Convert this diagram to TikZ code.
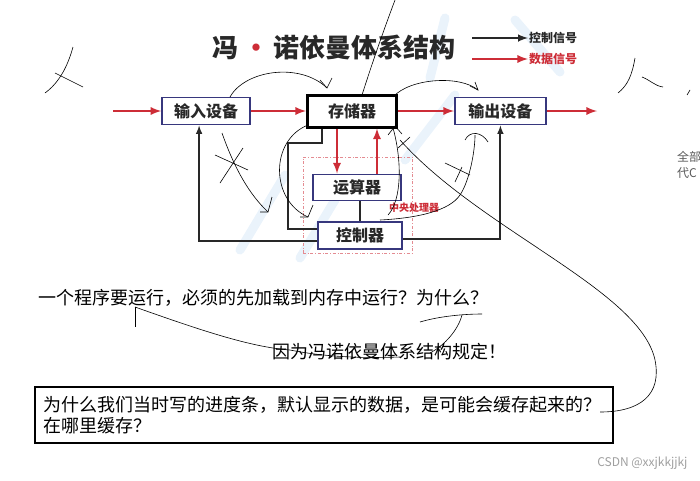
\documentclass[tikz,border=0pt]{standalone}
\usepackage{fontspec}
\setmainfont{Noto Sans CJK SC}
\usetikzlibrary{positioning}
\definecolor{datared}{RGB}{205,45,55}
\definecolor{unitblue}{RGB}{55,55,125}
\definecolor{ink}{RGB}{40,40,40}
\definecolor{wmblue}{RGB}{234,243,251}

\begin{document}
\begin{tikzpicture}[x=1pt, y=-1pt, >=latex,
    unit/.style={rectangle, draw=unitblue, line width=1.8pt, fill=white, minimum width=88pt, minimum height=27pt, inner sep=0pt, font=\fontsize{16}{18}\selectfont\bfseries, text=ink},
    data/.style={draw=datared, line width=2.6pt},
    ctl/.style={draw=ink, line width=1.9pt},
    pen/.style={draw=black, line width=0.6pt},
    water/.style={draw=wmblue, line width=9pt, line cap=round},
    note/.style={font=\fontsize{18}{21}\selectfont, anchor=west, inner sep=0pt}]

    \useasboundingbox (0,0) rectangle (700,480);

    \draw[water] (240,250) -- (285,175);
    \draw[water] (300,258) -- (335,200);
    \draw[water] (405,160) -- (455,95);
    \draw[water] (430,78) -- (445,18);
    \draw[water] (515,20) -- (560,72);

    \node (title) at (334,48) [font=\fontsize{26}{28}\selectfont\bfseries, text=ink] {冯\,{\color{datared}•}\,诺依曼体系结构};
    \node (ctlkey) [anchor=west, inner sep=1pt, font=\fontsize{12}{13}\selectfont\bfseries, text=ink] at (528,38) {控制信号};
    \node (datakey) [anchor=west, inner sep=1pt, font=\fontsize{12}{13}\selectfont\bfseries, text=datared] at (528,59) {数据信号};
    \coordinate (ctlfrom) at (472,38);
    \coordinate (datafrom) at (472,59);
    \draw[ctl, line width=2.4pt, ->] (ctlfrom) -- (ctlkey.west);
    \draw[data, ->] (datafrom) -- (datakey.west);

    \node (cpu) [draw=datared!55, dash dot, line width=0.7pt, minimum width=109pt, minimum height=96pt] at (357.5,205) {};

    \node (mem) [unit, draw=black, line width=3pt, minimum width=89pt, minimum height=32pt] at (352,111) {存储器};
    \node (in) [unit, left=55pt of mem] {输入设备};
    \node (out) [unit, right=56pt of mem, minimum width=91pt] {输出设备};
    \node (alu) [unit, below=45pt of mem, xshift=5pt, minimum height=26pt] {运算器};
    \node (ctrl) [unit, below=20pt of alu, xshift=3pt, minimum width=84pt] {控制器};
    \node (cpulabel) [text=datared, font=\fontsize{10}{11}\selectfont\bfseries] at (414,208) {中央处理器};

    \coordinate (src) at (113,111);
    \coordinate (sink) at (597,111);
    \draw[data, ->] (src) -- (in);
    \draw[data, ->] (in) -- (mem);
    \draw[data, ->] (mem) -- (out);
    \draw[data, ->] (out) -- (sink);
    \draw[data, ->] ([xshift=-15pt]mem.south) -- ([xshift=-20pt]alu.north);
    \draw[data, ->] ([xshift=20pt]alu.north) -- ([xshift=25pt]mem.south);

    \coordinate (bend) at (288,143);
    \draw[ctl] (ctrl.north) -- (ctrl.north |- alu.south);
    \draw[ctl, ->] ([yshift=-5.5pt]ctrl.west) -| ([xshift=-7pt]in.south);
    \draw[ctl, ->] ([yshift=-3pt]ctrl.east) -| (out.south);
    \draw[ctl] ([yshift=7pt]ctrl.west) -| (bend) -| ([xshift=-30pt]mem.south);

    \node (ask) [note] at (38,298) {一个程序要运行，必须的先加载到内存中运行？为什么？};
    \node (why) [note] at (272,352) {因为冯诺依曼体系结构规定！};
    \node (cache) [draw, line width=2.5pt, text width=562pt, inner xsep=8pt, minimum height=56pt, align=left, font=\fontsize{18}{21}\selectfont] at (324,415) {为什么我们当时写的进度条，默认显示的数据，是可能会缓存起来的？\\在哪里缓存？};
    \node (credit) [anchor=east, text=gray!75, font=\fontsize{12}{13}\selectfont] at (691,463) {CSDN @xxjkkjjkj};
    \node (cut) [anchor=west, align=left, inner sep=0pt, text=gray!70!black, font=\fontsize{12}{16}\selectfont] at (677,165) {全部\\代C};

    \draw[pen] (230,97) .. controls (245,70) and (300,62) .. (327,88);
    \draw[pen] (320,80) -- (327,88) -- (332,78);
    \draw[pen] (395,0) .. controls (380,40) and (370,70) .. (362,95);
    \draw[pen] (393,97) .. controls (410,78) and (460,75) .. (478,90);
    \draw[pen] (470,86) -- (478,90) -- (475,82);
    \draw[pen] (308,125) .. controls (270,140) and (270,200) .. (308,217);
    \draw[pen] (300,217) -- (308,217) -- (313,205);
    \draw[pen] (222,133) .. controls (235,170) and (250,195) .. (268,212);
    \draw[pen] (243,148) -- (220,183);
    \draw[pen] (215,155) -- (248,170);
    \draw[pen] (272,197) -- (268,212) -- (260,212);
    \draw[pen] (393,128) .. controls (402,160) and (402,200) .. (388,215);
    \draw[pen] (388,135) -- (395,126) -- (402,134);
    \draw[pen] (398,148) -- (410,137);
    \draw[pen] (380,220) .. controls (420,218) and (450,210) .. (460,195) .. controls (470,180) and (475,150) .. (475,135);
    \draw[pen] (465,140) .. controls (470,130) and (482,132) .. (488,142);
    \draw[pen] (445,163) -- (470,175);
    \draw[pen] (455,182) -- (462,167);
    \draw[pen] (400,140) .. controls (480,230) and (640,290) .. (655,360) .. controls (662,395) and (640,412) .. (600,412);
    \draw[pen] (135,307) -- (135,327);
    \draw[pen] (135,307) .. controls (200,330) and (250,347) .. (290,350) .. controls (330,358) and (370,358) .. (400,357);
    \draw[pen] (420,322) .. controls (440,316) and (465,314) .. (482,314);
    \draw[pen] (462,315) .. controls (458,330) and (445,345) .. (430,353);
    \draw[pen] (73,47) .. controls (68,65) and (60,82) .. (45,93);
    \draw[pen] (55,73) -- (83,87);
    \draw[pen] (635,58) .. controls (632,75) and (628,85) .. (618,93);
    \draw[pen] (642,77) .. controls (650,80) and (655,86) .. (663,87);
    \draw[pen] (690,90) -- (687,95);
\end{tikzpicture}
\end{document}
